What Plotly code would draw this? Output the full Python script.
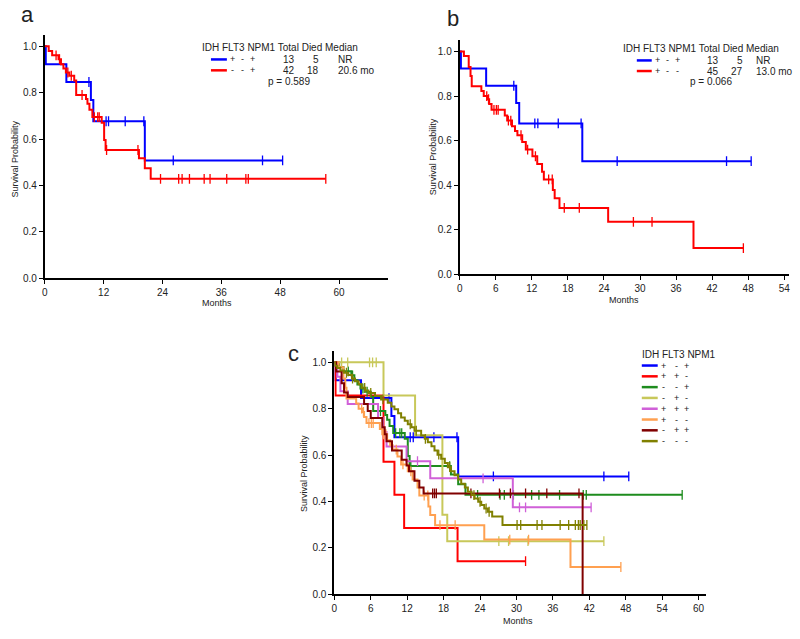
import plotly.graph_objects as go

# Kaplan-Meier step data: times of the steps (months) and survival after each step
# group + - + (IDH+, FLT3-, NPM1+)
pmp_t = [0, 0.2, 4.4, 9.4, 9.9, 20.4]
pmp_s = [1.0, 0.923, 0.846, 0.769, 0.677, 0.508]
pmp_cens = [9.0, 12.5, 13.0, 16.4, 20.2, 26.2, 44.4, 48.5]

# group - - + (panel a red, panel c green)
mmp_t = [0, 0.8, 1.5, 2.8, 3.3, 3.8, 4.3, 5.0, 6.0, 6.4, 8.4, 8.7, 9.1, 9.7, 11.6, 12.1, 12.4, 19.2, 20.4, 21.6]
mmp_s = [1.0, 0.98, 0.961, 0.944, 0.923, 0.904, 0.887, 0.873, 0.852, 0.79, 0.773, 0.752, 0.726, 0.695, 0.67, 0.596, 0.553, 0.517, 0.474, 0.429]
mmp_cens = [2.3, 3.0, 4.7, 5.4, 7.6, 10.1, 10.8, 11.1, 12.6, 19.0, 23.6, 27.3, 28.0, 29.5, 32.5, 33.7, 37.1, 41.0, 41.5, 57.3]

# group + - - (panel b red, panel c orange)
pmm_t = [0, 0.7, 1.5, 1.8, 2.0, 3.6, 4.0, 4.6, 4.9, 5.3, 7.5, 7.9, 8.7, 9.2, 9.6, 10.4, 11.0, 12.1, 12.9, 13.7, 14.0, 15.5, 15.8, 16.6, 24.7, 38.9]
pmm_s = [1.0, 0.979, 0.93, 0.89, 0.844, 0.822, 0.80, 0.786, 0.764, 0.738, 0.713, 0.69, 0.664, 0.643, 0.624, 0.594, 0.56, 0.53, 0.495, 0.46, 0.426, 0.379, 0.342, 0.298, 0.236, 0.118]
pmm_cens = [4.5, 4.8, 5.7, 6.1, 6.4, 8.1, 8.5, 10.2, 11.3, 12.6, 14.8, 15.4, 17.4, 19.9, 28.9, 32.0, 47.2]

# group + + -
ppm_t = [0, 0.2, 8.1, 9.9, 11.5, 20.3]
ppm_s = [1.0, 0.857, 0.571, 0.429, 0.286, 0.143]
ppm_cens = [31.5]

# group - + -
mpm_t = [0, 8.1, 13.3, 17.8, 18.6]
mpm_s = [1.0, 0.857, 0.686, 0.343, 0.229]
mpm_cens = [1.2, 2.2, 5.8, 6.3, 6.9, 27.1, 28.7, 31.9, 44.4]

# group + + +
ppp_t = [0, 0.5, 1.0, 2.2, 7.2, 8.0, 8.6, 11.9, 15.8, 29.4]
ppp_s = [1.0, 0.938, 0.875, 0.82, 0.76, 0.70, 0.637, 0.574, 0.50, 0.375]
ppp_cens = [13.7, 24.5, 30.5, 31.5, 42.3]

# group - + +
mpp_t = [0, 0.3, 1.2, 1.6, 2.2, 4.9, 5.5, 6.0, 7.9, 8.3, 8.6, 9.5, 11.1, 11.9, 12.3, 13.2, 14.0, 14.7, 40.9]
mpp_s = [1.0, 0.96, 0.91, 0.87, 0.85, 0.82, 0.79, 0.76, 0.72, 0.69, 0.66, 0.62, 0.58, 0.555, 0.53, 0.49, 0.46, 0.435, 0.0]
mpp_cens = [16.2, 16.5, 16.8, 22.5, 27.2, 29.0, 31.5, 35.0, 40.3]

# group - - -
mmm_t = [0, 0.1, 0.5, 1.0, 1.6, 2.3, 2.9, 3.4, 4.0, 4.5, 5.1, 5.6, 6.7, 7.7, 8.8, 9.4, 9.9, 10.5, 11.0,
         11.6, 12.1, 12.7, 13.2, 14.3, 14.9, 15.4, 16.0, 16.5, 17.0, 17.6, 18.2, 18.7, 19.2, 19.8,
         20.4, 20.9, 21.5, 22.0, 22.6, 23.1, 23.7, 24.2, 24.7, 25.3, 26.0, 27.7]
mmm_s = [1.0, 0.985, 0.975, 0.965, 0.955, 0.945, 0.93, 0.918, 0.905, 0.89, 0.878, 0.868, 0.855, 0.84, 0.826,
         0.81, 0.798, 0.78, 0.762, 0.748, 0.733, 0.72, 0.705, 0.684, 0.67, 0.655, 0.638, 0.62, 0.602,
         0.584, 0.566, 0.548, 0.53, 0.513, 0.495, 0.477, 0.46, 0.442, 0.428, 0.413, 0.399, 0.385, 0.37,
         0.356, 0.335, 0.299]
mmm_cens = [2.0, 3.0, 5.0, 6.0, 8.0, 12.5, 13.5, 15.0, 17.2, 19.0, 23.0, 24.0, 25.0, 25.5, 30.1, 30.7,
            33.4, 34.2, 37.2, 38.6, 39.7, 40.2, 40.5, 41.1, 41.6]

FONT = "Liberation Sans, Arial, sans-serif"
TXT = "#222222"

W, H = 800, 639


def km_at(ts, ss, t):
    v = ss[0]
    for ti, si in zip(ts, ss):
        if ti <= t:
            v = si
    return v


def add_km(fig, ts, ss, cens, color, xa, ya):
    xs, ys = list(ts), list(ss)
    if cens and max(cens) > ts[-1]:
        xs.append(max(cens))
        ys.append(ss[-1])
    fig.add_trace(go.Scatter(x=xs, y=ys, mode="lines", line=dict(color=color, width=2, shape="hv"),
                             xaxis=xa, yaxis=ya, showlegend=False, hoverinfo="skip"))
    fig.add_trace(go.Scatter(x=cens, y=[km_at(ts, ss, c) for c in cens], mode="markers",
                             marker=dict(symbol="line-ns", size=7, line=dict(width=1.3, color=color)),
                             xaxis=xa, yaxis=ya, showlegend=False, hoverinfo="skip"))


fig = go.Figure()

# panel a
add_km(fig, pmp_t, pmp_s, pmp_cens, "#0000ff", "x", "y")
add_km(fig, mmp_t, mmp_s, mmp_cens, "#ff0000", "x", "y")
# panel b
add_km(fig, pmp_t, pmp_s, pmp_cens, "#0000ff", "x2", "y2")
add_km(fig, pmm_t, pmm_s, pmm_cens, "#ff0000", "x2", "y2")

# panel c
groups_c = [
    ("+", "-", "+", "#0000ff", pmp_t, pmp_s, pmp_cens),
    ("+", "+", "-", "#ff0000", ppm_t, ppm_s, ppm_cens),
    ("-", "-", "+", "#1e8c1e", mmp_t, mmp_s, mmp_cens),
    ("-", "+", "-", "#c8c85a", mpm_t, mpm_s, mpm_cens),
    ("+", "+", "+", "#d060d8", ppp_t, ppp_s, ppp_cens),
    ("+", "-", "-", "#ffa050", pmm_t, pmm_s, pmm_cens),
    ("-", "+", "+", "#800000", mpp_t, mpp_s, mpp_cens),
    ("-", "-", "-", "#808000", mmm_t, mmm_s, mmm_cens),
]
for g in groups_c:
    add_km(fig, g[4], g[5], g[6], g[3], "x3", "y3")


def xdom(x0, x1):
    return [x0 / W, x1 / W]


def ydom(top, bottom):
    return [1 - bottom / H, 1 - top / H]


def ax(domain, rng, dtick, fmt=None):
    d = dict(domain=domain, range=rng, dtick=dtick, tick0=0, showline=True, linecolor="black",
             linewidth=2, ticks="outside", ticklen=4, tickwidth=1, tickcolor="black",
             showgrid=False, zeroline=False, tickfont=dict(family=FONT, size=10, color=TXT))
    if fmt:
        d["tickformat"] = fmt
    return d


def px(x, y):
    return x / W, 1 - y / H


annots = []
shapes = []


def text(x, y, s, size=10, xanchor="center", angle=0):
    X, Y = px(x, y)
    annots.append(dict(x=X, y=Y, xref="paper", yref="paper", text=s, showarrow=False,
                       xanchor=xanchor, yanchor="middle", textangle=angle,
                       font=dict(family=FONT, size=size, color=TXT)))


def legline(x0, x1, y, color):
    X0, Y = px(x0, y)
    X1, _ = px(x1, y)
    shapes.append(dict(type="line", xref="paper", yref="paper", x0=X0, x1=X1, y0=Y, y1=Y,
                       line=dict(color=color, width=2.5)))


# panel letters
text(25, 15, "a", size=22)
text(452, 19, "b", size=22)
text(292, 357, "c", size=22)

# axis titles
text(13, 160, "Survival Probability", size=9, angle=-90)
text(432, 158, "Survival Probability", size=9, angle=-90)
text(302, 478, "Survival Probability", size=9, angle=-90)
text(215, 306, "Months", size=9)
text(624, 303, "Months", size=9)
text(518, 627, "Months", size=9)

# legend a
text(278, 48, "IDH FLT3 NPM1 Total Died Median")
rows_a = [("+", "-", "+", "13", "5", "NR", "#0000ff"), ("-", "-", "+", "42", "18", "20.6 mo", "#ff0000")]
for i, r in enumerate(rows_a):
    y = 60 + i * 11
    legline(209, 225, y, r[6])
    for j, sx in enumerate([231, 241, 251]):
        text(sx, y, r[j], size=9)
    text(295, y, r[3], xanchor="right")
    text(320, y, r[4], xanchor="right")
    text(335, y, r[5], xanchor="left")
text(287, 82, "p = 0.589")

# legend b
text(702, 49, "IDH FLT3 NPM1 Total Died Median")
rows_b = [("+", "-", "+", "13", "5", "NR", "#0000ff"), ("+", "-", "-", "45", "27", "13.0 mo", "#ff0000")]
for i, r in enumerate(rows_b):
    y = 61 + i * 10.7
    legline(637, 652, y, r[6])
    for j, sx in enumerate([658, 668, 678]):
        text(sx, y, r[j], size=9)
    text(722, y, r[3], xanchor="right")
    text(746, y, r[4], xanchor="right")
    text(755, y, r[5], xanchor="left")
text(712, 82, "p = 0.066")

# legend c
text(640, 358, "IDH FLT3 NPM1", xanchor="left")
for i, g in enumerate(groups_c):
    y = 369 + i * 10.9
    legline(642, 658, y, g[3])
    for j, sx in enumerate([664, 677, 687]):
        text(sx, y, g[j], size=9)

fig.update_layout(
    width=W, height=H, margin=dict(l=0, r=0, t=0, b=0),
    paper_bgcolor="white", plot_bgcolor="white",
    xaxis=ax(xdom(42, 387), [0, 70], 12),
    yaxis=ax(ydom(35, 281), [0, 1.05], 0.2, ".1f"),
    xaxis2=ax(xdom(459, 790), [0, 54.8], 6),
    yaxis2=ax(ydom(40, 277), [0, 1.053], 0.2, ".1f"),
    xaxis3=ax(xdom(333, 707), [0, 61.3], 6),
    yaxis3=ax(ydom(354, 600), [0, 1.05], 0.2, ".1f"),
    annotations=annots, shapes=shapes,
)
fig.update_layout(xaxis=dict(anchor="y"), yaxis=dict(anchor="x"),
                  xaxis2=dict(anchor="y2"), yaxis2=dict(anchor="x2"),
                  xaxis3=dict(anchor="y3"), yaxis3=dict(anchor="x3"))

# drop the default 8px page margin so the 800x639 figure fills the window
fig.write_html("out.html", config={"displayModeBar": False},
               post_script="document.body.style.margin = '0px';")
